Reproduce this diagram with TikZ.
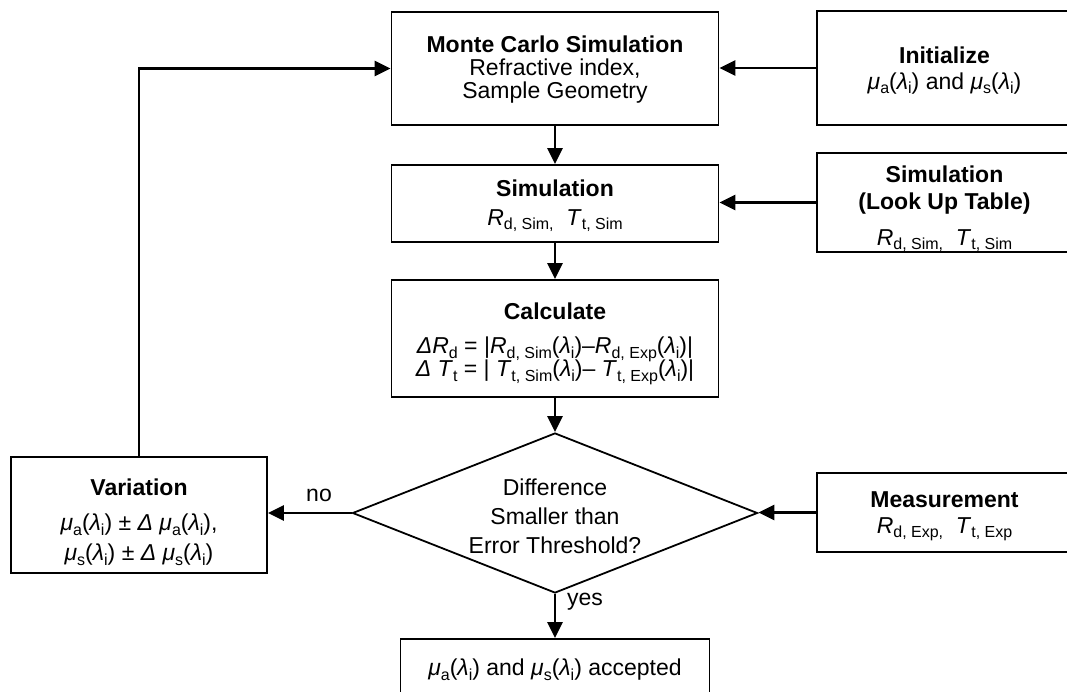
\documentclass[tikz,border=0pt]{standalone}
\usepackage{fontspec}
\setmainfont{Liberation Sans}
\usetikzlibrary{arrows.meta,shapes.geometric}
\newcommand\mysub[1]{\raisebox{-4.5pt}{\fontsize{16}{16}\selectfont #1}}
\newcommand\mymu[1]{\textit{μ}\mysub{#1}(\textit{λ}\mysub{i})}
\newcommand\myR[1]{\textit{R}\mysub{d, #1}}
\newcommand\myT[1]{\textit{T}\mysub{t, #1}}
\newcommand\mystrut[1]{\rule{0pt}{#1}}
\begin{document}
\lineskiplimit=-100pt
\begin{tikzpicture}[x=1pt,y=-1pt,
  box/.style={draw, line width=1.8pt, rectangle, inner sep=0pt, align=center,
    font=\fontsize{23}{23}\selectfont},
  decision/.style={draw, line width=1.8pt, diamond, inner sep=0pt, align=center,
    minimum width=405pt, minimum height=160pt, aspect=2.53,
    font=\fontsize{23}{29}\selectfont},
  arr/.style={line width=2.6pt, -{Triangle[length=16pt,width=15pt]}},
  lbl/.style={font=\fontsize{23}{23}\selectfont, inner sep=0pt}]
\useasboundingbox (0,0) rectangle (1067,692);
\clip (0,0) rectangle (1067,692);
\fill[white] (0,0) rectangle (1067,692);

\node[box, minimum width=327pt, minimum height=113pt] (mc) at (555,68.5)
  {\mystrut{19pt}{\bfseries Monte Carlo Simulation}\\Refractive index,\\Sample Geometry};
\node[box, minimum width=255pt, minimum height=114pt] (init) at (944.5,68)
  {\mystrut{21pt}{\bfseries Initialize}\\[3pt]\mymu{a} and \mymu{s}};
\node[box, minimum width=327pt, minimum height=77pt] (sim) at (555,203.5)
  {\mystrut{21pt}{\bfseries Simulation}\\[6pt]\textit{R}\mysub{d, Sim,}\ \ \myT{Sim}};
\node[box, minimum width=255pt, minimum height=99pt] (lut) at (944.5,202.5)
  {\mystrut{29pt}{\bfseries Simulation}\\[4pt]{\bfseries (Look Up Table)}\\[13pt]\textit{R}\mysub{d, Sim,}\ \ \myT{Sim}};
\node[box, minimum width=327pt, minimum height=117pt] (calc) at (555,338.5)
  {\mystrut{27pt}{\bfseries Calculate}\\[11pt]
   \textit{ΔR}\mysub{d} = |\myR{Sim}(\textit{λ}\mysub{i})–\myR{Exp}(\textit{λ}\mysub{i})|\\[0pt]
   \textit{Δ T}\mysub{t} = | \myT{Sim}(\textit{λ}\mysub{i})– \myT{Exp}(\textit{λ}\mysub{i})|};
\node[decision] (dia) at (555,513)
  {\mystrut{23pt}Difference\\Smaller than\\Error Threshold?};
\node[box, minimum width=256pt, minimum height=116pt] (var) at (139,515)
  {\mystrut{31pt}{\bfseries Variation}\\[12pt]\mymu{a} ± \textit{Δ} \mymu{a},\\[7pt]\mymu{s} ± \textit{Δ} \mymu{s}};
\node[box, minimum width=255pt, minimum height=79pt] (meas) at (944.5,512.5)
  {\mystrut{23pt}{\bfseries Measurement}\\[3pt]\textit{R}\mysub{d, Exp,}\ \ \myT{Exp}};
\node[box, minimum width=309pt, minimum height=62pt] (acc) at (555,670)
  {\mymu{a} and \mymu{s} accepted};

\draw[arr] (init.west) -- (init.west -| mc.east);
\draw[arr] (mc.south) -- (sim.north);
\draw[arr] (lut.west) -- (lut.west -| sim.east);
\draw[arr] (sim.south) -- (calc.north);
\draw[arr] (calc.south) -- (dia.north);
\draw[arr] (meas.west) -- (meas.west -| dia.east);
\draw[arr] (dia.west) -- (dia.west -| var.east);
\draw[arr] (var.north) |- (mc.west);
\draw[arr] (dia.south) -- (acc.north);

\node[lbl] (no) at (319,495) {no};
\node[lbl] (yes) at (585,602) {yes};
\end{tikzpicture}
\end{document}
